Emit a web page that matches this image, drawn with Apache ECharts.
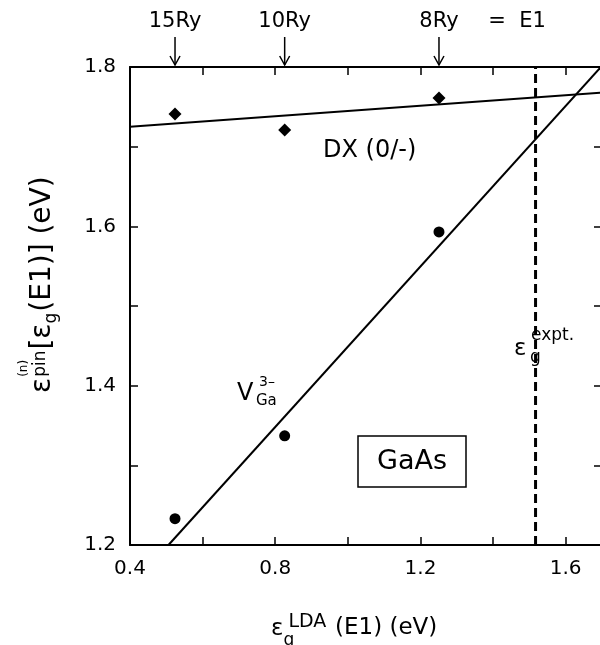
<!DOCTYPE html>
<html><head><meta charset="utf-8">
<script src="https://cdn.jsdelivr.net/npm/echarts@6/dist/echarts.min.js"></script>
<style>html,body{margin:0;padding:0;background:#fff}#c{width:600px;height:645px}</style>
</head><body><div id="c"></div>
<script>
// ---- data ----
const dxX = [0.524, 0.826, 1.251];
const dxY = [1.741, 1.721, 1.761];
const vGaX = [0.524, 0.826, 1.251];
const vGaY = [1.233, 1.337, 1.593];
const dxFitX = [0.4, 1.7];
const dxFitY = [1.725, 1.768];
const vGaFitX = [0.506, 1.697];
const vGaFitY = [1.2, 1.8];
const exptGap = 1.517;
const ryLabels = ['15Ry', '10Ry', '8Ry'];
const ryX = [0.524, 0.826, 1.251];
const xTickLabels = [0.4, 0.8, 1.2, 1.6];
const yTickLabels = [1.2, 1.4, 1.6, 1.8];

const FONT = 'DejaVu Sans';
const zip = (a, b) => a.map((v, i) => [v, b[i]]);
const chart = echarts.init(document.getElementById('c'), null, {renderer: 'canvas'});

const axisCommon = {
  axisLine: {show: true, onZero: false, lineStyle: {color: '#000', width: 2}},
  axisTick: {show: true, inside: true, length: 8, lineStyle: {color: '#000', width: 1.5}},
  splitLine: {show: false}
};
const fmt = list => v => list.includes(Math.round(v * 10) / 10) ? (Math.round(v * 10) / 10).toFixed(1) : '';

const option = {
  animation: false,
  backgroundColor: '#fff',
  grid: {left: 130, top: 67, width: 472, height: 478, containLabel: false, outerBoundsMode: 'none'},
  xAxis: [
    Object.assign({type: 'value', min: 0.4, max: 1.7, interval: 0.2, position: 'bottom',
      axisLabel: {show: true, margin: 14, color: '#000', fontFamily: FONT, fontSize: 20, formatter: fmt(xTickLabels)}}, axisCommon),
    Object.assign({type: 'value', min: 0.4, max: 1.7, interval: 0.2, position: 'top',
      axisLabel: {show: false}}, axisCommon)
  ],
  yAxis: [
    Object.assign({type: 'value', min: 1.2, max: 1.8, interval: 0.1, position: 'left',
      axisLabel: {show: true, margin: 14, color: '#000', fontFamily: FONT, fontSize: 20, formatter: fmt(yTickLabels)}}, axisCommon),
    Object.assign({type: 'value', min: 1.2, max: 1.8, interval: 0.1, position: 'right',
      axisLabel: {show: false}}, axisCommon)
  ],
  series: [
    {type: 'line', data: zip(dxFitX, dxFitY), showSymbol: false, symbol: 'none',
      lineStyle: {color: '#000', width: 2}, silent: true, z: 2},
    {type: 'line', data: zip(vGaFitX, vGaFitY), showSymbol: false, symbol: 'none',
      lineStyle: {color: '#000', width: 2}, silent: true, z: 2},
    {type: 'line', data: [[exptGap, 1.2], [exptGap, 1.8]], showSymbol: false, symbol: 'none',
      lineStyle: {color: '#000', width: 3, type: [9, 5]}, silent: true, z: 2},
    {type: 'scatter', data: zip(dxX, dxY), symbol: 'diamond', symbolSize: [13, 13],
      itemStyle: {color: '#000', opacity: 1}, z: 3},
    {type: 'scatter', data: zip(vGaX, vGaY), symbol: 'circle', symbolSize: 11,
      itemStyle: {color: '#000', opacity: 1}, z: 3}
  ]
};
chart.setOption(option);

// ---- text helpers ----
const ctx = document.createElement('canvas').getContext('2d');
const fontStr = s => s + 'px "' + FONT + '"';
const W = (t, s) => { ctx.font = fontStr(s); return ctx.measureText(t).width; };
const T = (text, x, y, size, extra) => ({
  type: 'text', x: x, y: y,
  style: Object.assign({text: text, fill: '#000', font: fontStr(size),
    textAlign: 'left', textVerticalAlign: 'middle'}, extra || {})
});
// lay out a sequence of pieces along a line; piece: [text, size, dy, advance?, extraGap, dx]
const run = (pieces, x0, y0) => {
  const out = []; let x = x0;
  pieces.forEach(p => {
    out.push(T(p[0], x + (p[5] || 0), y0 + p[2], p[1]));
    if (p[3] !== false) x += W(p[0], p[1]) + (p[4] || 0);
  });
  return out;
};

const g = [];
// top Ry arrows (positions from data values)
ryLabels.forEach((lab, i) => {
  const px = chart.convertToPixel({xAxisIndex: 0}, ryX[i]);
  g.push(T(lab, px, 22, 21, {textAlign: 'center'}));
  g.push({type: 'line', shape: {x1: px, y1: 37, x2: px, y2: 65}, style: {stroke: '#000', lineWidth: 1.5}});
  g.push({type: 'polyline', shape: {points: [[px - 5, 56], [px, 65], [px + 5, 56]]}, style: {stroke: '#000', lineWidth: 1.5, fill: null}});
});
g.push(T('=  E1', 517, 22, 21, {textAlign: 'center'}));

// DX label
g.push(T('DX (0/-)', 323, 151, 24));
// V_Ga^3- label
g.push(T('V', 237, 394, 24));
g.push(T('3\u2013', 259, 382, 14));
g.push(T('Ga', 256, 401, 15));
// GaAs box
g.push({type: 'rect', shape: {x: 358, y: 436, width: 108, height: 51}, style: {stroke: '#000', lineWidth: 1.5, fill: '#fff'}, z: 10});
g.push(Object.assign(T('GaAs', 412, 462, 27, {textAlign: 'center'}), {z: 11}));
// expt label
g.push(T('\u03b5', 514, 349, 23));
g.push(T('expt.', 531, 336, 17));
g.push(T('g', 530, 358, 17));

// x-axis title
g.push(...run([
  ['\u03b5', 23, 0, true],
  ['LDA', 19, -7, false, 0, 5],
  ['g', 17, 12, true]
], 271, 629));
g.push(T('(E1) (eV)', 335, 628, 23));

// y-axis title (rotated group, reading bottom-to-top)
const yl = run([
  ['\u03b5', 28, 0, true, 1],
  ['(n)', 12, -19, false],
  ['pin', 17, -2, true, 1],
  ['[', 28, 0, true],
  ['\u03b5', 28, 0, true],
  ['g', 17, 9, true, 1],
  ['(E1)] (eV)', 28, 0, true]
], 0, 0);
g.push({type: 'group', x: 43, y: 393, rotation: Math.PI / 2, children: yl});

chart.setOption({graphic: {elements: g}});
</script></body></html>
